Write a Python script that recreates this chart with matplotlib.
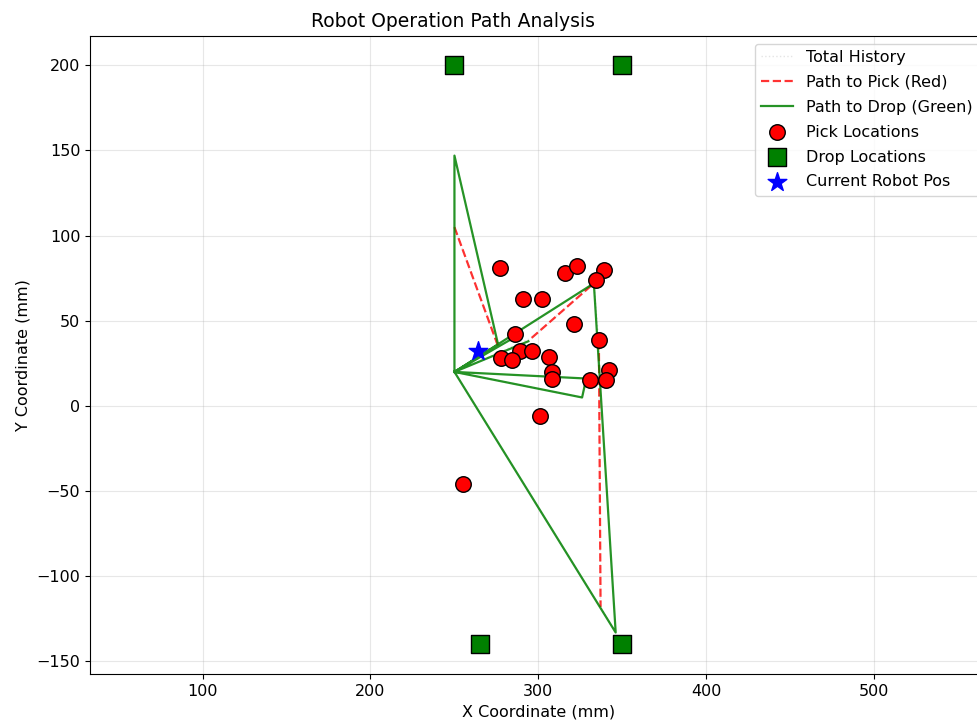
import numpy as np
import matplotlib
matplotlib.use("Agg")
import matplotlib.pyplot as plt

# pick locations (mm)
pick_x = [277, 316, 323, 339, 334, 291, 302, 321, 286, 336, 289, 296, 278, 284,
          306, 308, 308, 342, 331, 340, 301, 255]
pick_y = [81, 78, 82, 80, 74, 63, 63, 48, 42, 39, 32, 32, 28, 27,
          29, 20, 16, 21, 15, 15, -6, -46]

# drop locations (mm)
drop_x = [250, 350, 265, 350]
drop_y = [200, 200, -140, -140]

# current robot position
robot_x = [264]
robot_y = [32]

# path to pick (red), segments split by nan
pick_path_x = [250, 276, np.nan, 296, 333, np.nan, 336, 337]
pick_path_y = [105, 35, np.nan, 40, 72, np.nan, 38, -118]

# path to drop (green), segments split by nan
drop_path_x = [250, 250, 276, 250, 294, np.nan, 250, 287, np.nan, 250, 333, 346, 250, np.nan,
               250, 331, np.nan, 250, 326, 328]
drop_path_y = [20, 147, 36, 20, 38, np.nan, 20, 41, np.nan, 20, 72, -133, 20, np.nan,
               20, 16, np.nan, 20, 5, 14]

# full history of positions
hist_x = [250, 276, 250, 296, 333, 336, 337, 346, 250, 326, 328, 331]
hist_y = [105, 35, 20, 40, 72, 38, -118, -133, 20, 5, 14, 16]

plt.rcParams['font.size'] = 11.5

fig = plt.figure(figsize=(9.77, 7.25), dpi=100)
ax = fig.add_axes([0.0921, 0.07, 0.918, 0.881])

ax.plot(hist_x, hist_y, ':', color='lightgray', alpha=0.6, lw=1, label='Total History')
ax.plot(pick_path_x, pick_path_y, '--', color='red', alpha=0.8, lw=1.6, label='Path to Pick (Red)')
ax.plot(drop_path_x, drop_path_y, '-', color='green', alpha=0.85, lw=1.6, label='Path to Drop (Green)')
ax.scatter(pick_x, pick_y, s=125, c='red', edgecolors='black', zorder=5, label='Pick Locations')
ax.scatter(drop_x, drop_y, s=150, marker='s', c='green', edgecolors='black', zorder=5, label='Drop Locations')
ax.scatter(robot_x, robot_y, s=200, marker='*', c='blue', zorder=6, label='Current Robot Pos')

ax.set_xlim(33, 567)
ax.set_ylim(-157.5, 217.5)
ax.set_xticks([100, 200, 300, 400, 500])
ax.set_yticks([-150, -100, -50, 0, 50, 100, 150, 200])
ax.grid(True, alpha=0.3)
ax.set_xlabel('X Coordinate (mm)')
ax.set_ylabel('Y Coordinate (mm)')
ax.set_title('Robot Operation Path Analysis', fontsize=13.5, x=0.405)
ax.legend(loc='upper right', labelspacing=0.62)

fig.savefig('out.png', dpi=100)
